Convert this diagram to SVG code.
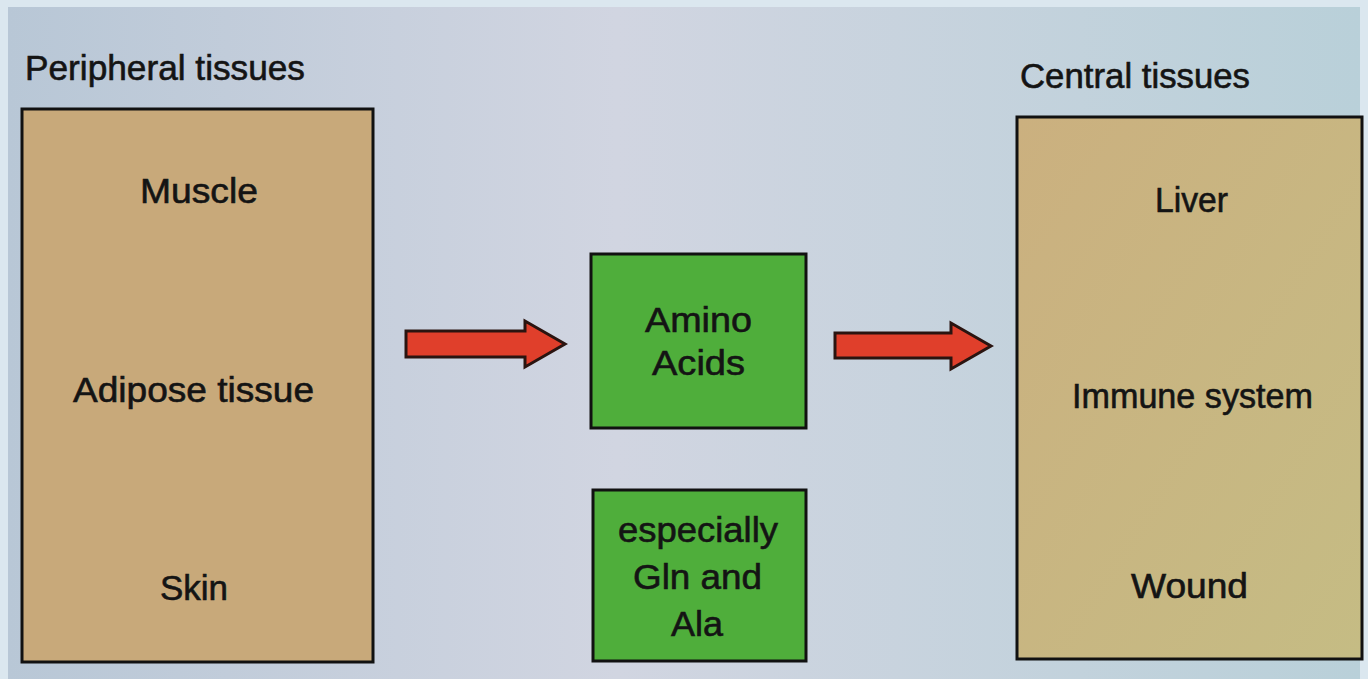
<svg xmlns="http://www.w3.org/2000/svg" width="1368" height="679" viewBox="0 0 1368 679">
  <defs>
    <linearGradient id="page" x1="0" y1="0" x2="1" y2="0">
      <stop offset="0" stop-color="#b8c7d6"/>
      <stop offset="0.45" stop-color="#d1d5e1"/>
      <stop offset="1" stop-color="#b9d0d9"/>
    </linearGradient>
    <linearGradient id="tanR" x1="0" y1="0" x2="1" y2="1">
      <stop offset="0" stop-color="#cbb07f"/>
      <stop offset="1" stop-color="#c5bc84"/>
    </linearGradient>
    <style>
      .lbl { font-family: "Liberation Sans", Arial, sans-serif; font-size: 35px; fill: #141414; stroke: #141414; stroke-width: 0.6; }
      .tissue { stroke: #111; stroke-width: 3; }
      .acid { fill: #4fae3b; stroke: #111; stroke-width: 3; }
      .arrow { fill: #e03f2b; stroke: #2a1410; stroke-width: 3; stroke-linejoin: miter; }
    </style>
  </defs>

  <!-- page -->
  <rect x="0" y="0" width="1368" height="679" fill="#dbe7ef"/>
  <rect x="8" y="7" width="1352" height="672" fill="url(#page)"/>

  <!-- headings -->
  <text class="lbl" x="25" y="80" textLength="280" lengthAdjust="spacingAndGlyphs">Peripheral tissues</text>
  <text class="lbl" x="1020" y="88" textLength="230" lengthAdjust="spacingAndGlyphs">Central tissues</text>

  <g id="peripheral">
    <rect class="tissue" x="22" y="109" width="351" height="553" fill="#c8a97a"/>
    <text class="lbl" x="140" y="203" textLength="118" lengthAdjust="spacingAndGlyphs">Muscle</text>
    <text class="lbl" x="73" y="402" textLength="241" lengthAdjust="spacingAndGlyphs">Adipose tissue</text>
    <text class="lbl" x="160" y="600" textLength="68" lengthAdjust="spacingAndGlyphs">Skin</text>
  </g>

  <g id="amino-acids">
    <rect class="acid" x="591" y="254" width="215" height="174"/>
    <text class="lbl" x="645" y="332" textLength="107" lengthAdjust="spacingAndGlyphs">Amino</text>
    <text class="lbl" x="652" y="375" textLength="93" lengthAdjust="spacingAndGlyphs">Acids</text>
  </g>

  <g id="gln-ala">
    <rect class="acid" x="593" y="490" width="213" height="171"/>
    <text class="lbl" x="618" y="542" textLength="160" lengthAdjust="spacingAndGlyphs">especially</text>
    <text class="lbl" x="633" y="589" textLength="129" lengthAdjust="spacingAndGlyphs">Gln and</text>
    <text class="lbl" x="671" y="636" textLength="52" lengthAdjust="spacingAndGlyphs">Ala</text>
  </g>

  <g id="central">
    <rect class="tissue" x="1017" y="117" width="345" height="542" fill="url(#tanR)"/>
    <text class="lbl" x="1155" y="212" textLength="73" lengthAdjust="spacingAndGlyphs">Liver</text>
    <text class="lbl" x="1072" y="408" textLength="241" lengthAdjust="spacingAndGlyphs">Immune system</text>
    <text class="lbl" x="1131" y="598" textLength="117" lengthAdjust="spacingAndGlyphs">Wound</text>
  </g>

  <g id="connectors">
    <polygon class="arrow" points="406,331 525,331 525,321 565,344 525,367 525,357 406,357"/>
    <polygon class="arrow" points="835,333 951,333 951,323 991,346 951,369 951,358 835,358"/>
  </g>
</svg>
